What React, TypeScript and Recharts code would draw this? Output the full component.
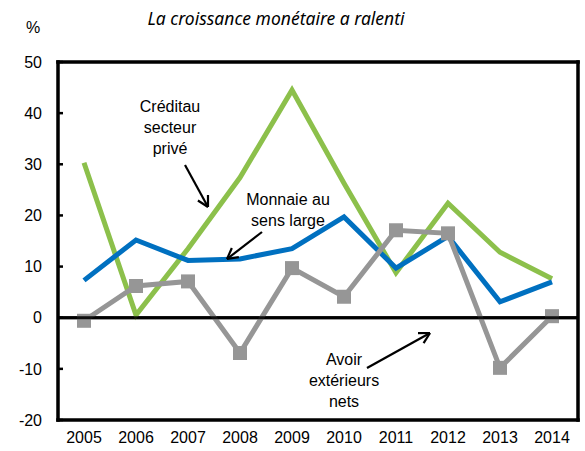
import { LineChart, Line, XAxis, YAxis, ReferenceLine } from 'recharts';

const years = ['2005', '2006', '2007', '2008', '2009', '2010', '2011', '2012', '2013', '2014'];
const creditPrive = [30.3, 0.5, 13.5, 27.4, 44.5, 26.3, 8.8, 22.4, 12.8, 7.6];
const monnaieLarge = [7.3, 15.2, 11.2, 11.5, 13.5, 19.7, 9.7, 15.9, 3.1, 7.0];
const avoirNets = [-0.6, 6.2, 7.1, -6.9, 9.7, 4.1, 17.1, 16.5, -9.8, 0.3];
const yTicks = [-20, -10, 0, 10, 20, 30, 40, 50];
const yMin = -20;
const yMax = 50;

const data = years.map((year, i) => ({
  year,
  credit: creditPrive[i],
  monnaie: monnaieLarge[i],
  avoir: avoirNets[i],
}));

// plot box geometry (matches chart margins below)
const W = 585;
const H = 451;
const PL = 58;
const PT = 62;
const PR = 578;
const PB = 420;
const yPix = (v: number) => PT + ((yMax - v) / (yMax - yMin)) * (PB - PT);

const font = 'Liberation Sans, Arial, sans-serif';

// thick segment as a filled polygon
function seg(x1: number, y1: number, x2: number, y2: number, w: number) {
  const dx = x2 - x1;
  const dy = y2 - y1;
  const len = Math.hypot(dx, dy);
  const nx = (-dy / len) * (w / 2);
  const ny = (dx / len) * (w / 2);
  return `${x1 + nx},${y1 + ny} ${x2 + nx},${y2 + ny} ${x2 - nx},${y2 - ny} ${x1 - nx},${y1 - ny}`;
}

function Arrow({ x1, y1, x2, y2 }: { x1: number; y1: number; x2: number; y2: number }) {
  const a = Math.atan2(y2 - y1, x2 - x1);
  const h = 12;
  const spread = 0.5;
  const ax = x2 - h * Math.cos(a - spread);
  const ay = y2 - h * Math.sin(a - spread);
  const bx = x2 - h * Math.cos(a + spread);
  const by = y2 - h * Math.sin(a + spread);
  return (
    <g fill="#000">
      <polygon points={seg(x1, y1, x2, y2, 2.2)} />
      <polygon points={seg(ax, ay, x2, y2, 2.2)} />
      <polygon points={seg(bx, by, x2, y2, 2.2)} />
    </g>
  );
}

function SquareDot({ cx, cy }: any) {
  if (cx == null || cy == null) return null;
  return <rect x={cx - 7} y={cy - 7} width={14} height={14} fill="#969696" />;
}

export default function App() {
  return (
    <div style={{ position: 'absolute', left: 0, top: 0, width: W, height: H, background: '#fff' }}>
      <LineChart width={W} height={H} data={data} margin={{ top: PT, right: W - PR, bottom: 3, left: 0 }}>
        <XAxis
          dataKey="year"
          height={H - 3 - PB}
          padding={{ left: 26, right: 26 }}
          axisLine={false}
          tickLine={false}
          tick={{ fill: '#000', fontSize: 16, fontFamily: font }}
          tickMargin={6}
          interval={0}
        />
        <YAxis
          width={PL}
          domain={[yMin, yMax]}
          ticks={yTicks}
          axisLine={false}
          tickLine={false}
          tickMargin={16}
          tickSize={0}
          tick={{ fill: '#000', fontSize: 16, fontFamily: font }}
        />
        <ReferenceLine y={0} stroke="#000" strokeWidth={3} />
        <Line dataKey="credit" stroke="#8CC04B" strokeWidth={5} dot={false} isAnimationActive={false} />
        <Line dataKey="monnaie" stroke="#0070C0" strokeWidth={5} dot={false} isAnimationActive={false} />
        <Line dataKey="avoir" stroke="#969696" strokeWidth={5} dot={<SquareDot />} isAnimationActive={false} />
      </LineChart>
      <svg width={W} height={H} style={{ position: 'absolute', left: 0, top: 0, pointerEvents: 'none', zIndex: 2 }}>
        {/* frame */}
        <rect x={PL - 1.75} y={PT - 1.75} width={PR - PL + 3.5} height={3.5} fill="#000" />
        <rect x={PL - 1.75} y={PB - 1.75} width={PR - PL + 3.5} height={3.5} fill="#000" />
        <rect x={PL - 1.75} y={PT - 1.75} width={3.5} height={PB - PT + 3.5} fill="#000" />
        <rect x={PR - 1.75} y={PT - 1.75} width={3.5} height={PB - PT + 3.5} fill="#000" />
        {/* zero line, drawn under the series colours in the reference but kept visible here */}
        <rect x={PL} y={yPix(0) - 1.5} width={PR - PL} height={3} fill="#000" fillOpacity={0.9} />
        {yTicks.map((t) => (
          <rect key={t} x={PL} y={yPix(t) - 1.25} width={5} height={2.5} fill="#000" />
        ))}
        <text x={276} y={25} textAnchor="middle" fontSize={17.5} fontStyle="italic" fontFamily="Noto Sans, sans-serif" fill="#000">
          La croissance monétaire a ralenti
        </text>
        <text x={33} y={33} textAnchor="middle" fontSize={16} fontFamily={font} fill="#000">%</text>
        <g fontSize={16} fontFamily={font} fill="#000" textAnchor="middle">
          <text x={170} y={112}>Créditau</text>
          <text x={170} y={133}>secteur</text>
          <text x={170} y={154}>privé</text>
          <text x={288} y={205}>Monnaie au</text>
          <text x={288} y={226}>sens large</text>
          <text x={344} y={365}>Avoir</text>
          <text x={344} y={386}>extérieurs</text>
          <text x={344} y={407}>nets</text>
        </g>
        <Arrow x1={185} y1={165} x2={208} y2={207} />
        <Arrow x1={262} y1={232} x2={227} y2={259} />
        <Arrow x1={367} y1={368} x2={430} y2={333} />
      </svg>
    </div>
  );
}
